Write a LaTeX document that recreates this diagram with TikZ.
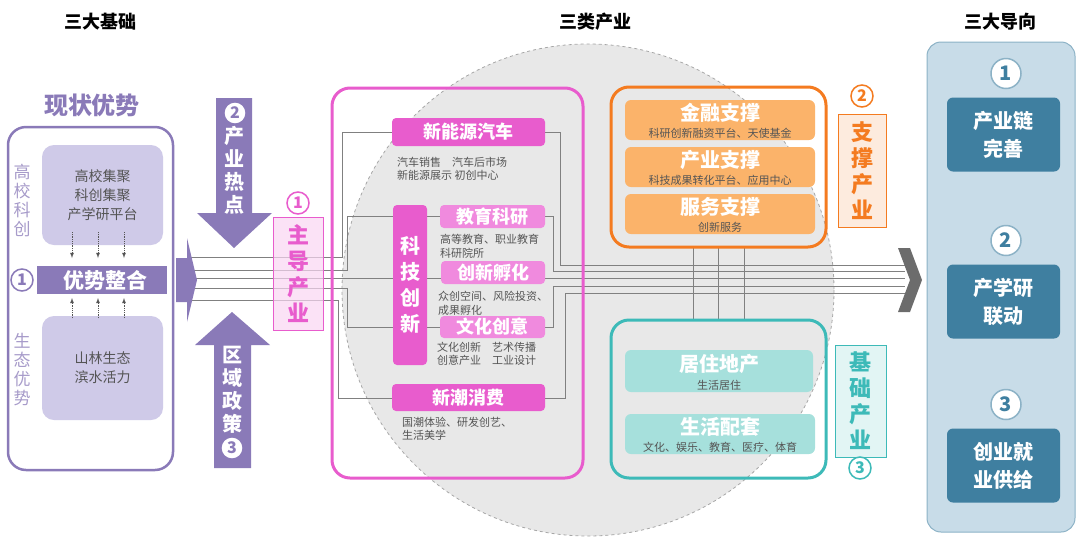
\documentclass[tikz,border=0pt]{standalone}
\usepackage{fontspec}
\setmainfont{Noto Sans CJK SC}
\usetikzlibrary{positioning}
\definecolor{cpurple}{HTML}{8A7AB8}
\definecolor{clav}{HTML}{CFCAE8}
\definecolor{cpink}{HTML}{E85CCD}
\definecolor{cpinkl}{HTML}{F08ADE}
\definecolor{corange}{HTML}{F47B20}
\definecolor{corangel}{HTML}{FBB36A}
\definecolor{cteal}{HTML}{3DBAB8}
\definecolor{ctealb}{HTML}{A6E0DC}
\definecolor{cblue}{HTML}{3F7FA0}
\definecolor{cpanel}{HTML}{C8DCE8}
\definecolor{ctext}{HTML}{555555}
\tikzset{
  title/.style={font=\fontsize{18}{20}\selectfont\bfseries},
  frame/.style={draw, line width=3pt, rounded corners=18pt},
  tag/.style={rounded corners=4pt, font=\fontsize{18}{20}\selectfont\bfseries, text=white, inner sep=0pt},
  small/.style={font=\fontsize{11}{13.5}\selectfont, text=ctext, align=left, anchor=west, inner sep=0pt},
  sub/.style={font=\fontsize{11}{12}\selectfont, text=ctext, inner sep=0pt},
  vtext/.style={align=center, font=\fontsize{20}{23}\selectfont\bfseries, inner sep=0pt},
  num/.style={circle, draw, line width=1.5pt, fill=white, inner sep=0pt, minimum size=22pt, font=\fontsize{16}{16}\selectfont\bfseries},
  wire/.style={draw=gray, line width=0.7pt},
  dots/.style={densely dotted, ctext, line width=0.8pt, -latex},
}
\begin{document}
\begin{tikzpicture}[x=1pt, y=-1pt]
  \useasboundingbox (0,0) rectangle (1080,539);
  % headers
  \node[title] (h1) at (100,22) {三大基础};
  \node[title] (h2) at (595,22) {三类产业};
  \node[title] (h3) at (1000,22) {三大导向};

  % background circle
  \draw[gray!70, dashed, fill=gray!18, line width=0.8pt] (588,290) circle (246);

  % wires
  \coordinate (wl) at (187,257);
  \coordinate (wr) at (905,265);
  \draw[wire] (187,257) -| (342,132) -- (392,132);
  \draw[wire] (545,132) -- (560,132) |- (905,265);
  \draw[wire] (187,270) -| (347,216) -- (440,216);
  \draw[wire] (545,216) -- (553,216) |- (905,271);
  \draw[wire] (187,278) -- (905,278);
  \draw[wire] (187,288) -| (347,327) -- (440,327);
  \draw[wire] (545,327) -- (553,327) |- (905,286);
  \draw[wire] (187,300) -| (338,398) -- (392,398);
  \draw[wire] (545,398) -- (565,398) |- (905,293);
  \foreach \x in {693,718,744}
    \draw[wire] (\x,247) -- (\x,320);
  \fill[gray!85!black] (898,248) -- (910,248) -- (922,280) -- (910,312) -- (898,312) -- (910,280) -- cycle;

  % left block
  \node[title, text=cpurple, font=\fontsize{24}{26}\selectfont\bfseries] (xzys) at (92,105) {现状优势};
  \node[draw=cpurple, line width=2.5pt, rounded corners=18pt, fill=white, minimum width=165pt, minimum height=343pt] (base) at (90.5,298.5) {};
  \node[fill=clav, rounded corners=12pt, minimum width=121pt, minimum height=100pt, align=center, font=\fontsize{14}{19}\selectfont, text=ctext] (gx) at (102.5,195) {高校集聚\\科创集聚\\产学研平台};
  \node[fill=clav, rounded corners=12pt, minimum width=121pt, minimum height=104pt, align=center, font=\fontsize{14}{19}\selectfont, text=ctext] (st) at (102.5,368) {山林生态\\滨水活力};
  \node[vtext, text=cpurple!75, font=\fontsize{17}{19}\selectfont] (gxkc) at (22,200) {高\\校\\科\\创};
  \node[vtext, text=cpurple!75, font=\fontsize{17}{19}\selectfont] (stys) at (22,370) {生\\态\\优\\势};
  \node[fill=cpurple, minimum width=130pt, minimum height=28pt, text=white, font=\fontsize{21}{22}\selectfont\bfseries, inner sep=0pt] (yszh) at (102,280) {\hspace{8pt}优势整合};
  \node[num, draw=cpurple, text=cpurple] (n1) at (22,280) {1};
  \foreach \x in {72,98,124} {
    \draw[dots] (\x,232) -- (\x,258);
    \draw[dots] (\x,318) -- (\x,298);
  }

  % purple arrows
  \fill[cpurple] (176,258) -- (187,258) -- (187,238) -- (197,280) -- (187,322) -- (187,302) -- (176,302) -- cycle;
  \fill[cpurple] (216,98) -- (252,98) -- (252,213) -- (272,213) -- (234,248) -- (197,213) -- (216,213) -- cycle;
  \fill[cpurple] (214,468) -- (251,468) -- (251,345) -- (270,345) -- (232,312) -- (195,345) -- (214,345) -- cycle;
  \node[num, draw=white, fill=white, text=cpurple, minimum size=19pt] (n2) at (235,113) {2};
  \node[vtext, text=white] (cyrd) at (234,170) {产\\业\\热\\点};
  \node[vtext, text=white] (qyzc) at (232,390) {区\\域\\政\\策};
  \node[num, draw=white, fill=white, text=cpurple, minimum size=19pt] (n3) at (232,448) {3};

  % leading industry
  \node[draw=cpink, fill=cpink!25, fill opacity=0.7, text opacity=1, minimum width=50pt, minimum height=113pt, vtext, text=cpink, font=\fontsize{22}{26}\selectfont\bfseries] (zdcy) at (298,273.5) {主\\导\\产\\业};
  \node[num, draw=cpink, text=cpink] (n4) at (298,203) {1};
  \node[frame, draw=cpink, minimum width=251pt, minimum height=390pt] (pinkbox) at (457.5,283) {};
  \node[tag, fill=cpink, minimum width=153pt, minimum height=28pt] (xny) at (468.5,132) {新能源汽车};
  \node[tag, fill=cpink, minimum width=34pt, minimum height=160pt, align=center, font=\fontsize{20}{26}\selectfont\bfseries] (kjcx) at (410,285) {科\\技\\创\\新};
  \node[tag, fill=cpinkl, minimum width=105pt, minimum height=23pt] (jyky) at (492.5,216.5) {教育科研};
  \node[tag, fill=cpinkl, minimum width=104pt, minimum height=23pt] (cxfh) at (493,272.5) {创新孵化};
  \node[tag, fill=cpinkl, minimum width=105pt, minimum height=22pt] (whcy) at (492.5,327) {文化创意};
  \node[tag, fill=cpink, minimum width=153pt, minimum height=27pt] (xccf) at (468.5,397.5) {新潮消费};
  \node[small] (t1) at (397,169) {汽车销售\quad 汽车后市场\\新能源展示 初创中心};
  \node[small] (t2) at (440,246.5) {高等教育、职业教育\\科研院所};
  \node[small] (t3) at (438,303.5) {众创空间、风险投资、\\成果孵化};
  \node[small] (t4) at (437,354) {文化创新\quad 艺术传播\\创意产业\quad 工业设计};
  \node[small] (t5) at (402,429) {国潮体验、研发创艺、\\生活美学};

  % supporting industry
  \node[frame, draw=corange, minimum width=215pt, minimum height=160pt] (orbox) at (718.5,167) {};
  \foreach \y/\name/\a/\b in {120/jr/金融支撑/科研创新融资平台、天使基金, 167/cy/产业支撑/科技成果转化平台、应用中心, 214/fw/服务支撑/创新服务} {
    \node[fill=corangel, rounded corners=6pt, minimum width=190pt, minimum height=40pt] (\name) at (720,\y) {};
    \node[tag, font=\fontsize{20}{22}\selectfont\bfseries] at (720,\y-7) {\a};
    \node[sub] at (720,\y+13) {\b};
  }
  \node[draw=corange, fill=corange!15, minimum width=48pt, minimum height=113pt, vtext, text=corange, font=\fontsize{22}{26}\selectfont\bfseries] (zccy) at (862,170.5) {支\\撑\\产\\业};
  \node[num, draw=corange, text=corange] (n5) at (862,96) {2};

  % basic industry
  \node[frame, draw=cteal, minimum width=215pt, minimum height=158pt] (tlbox) at (718.5,399) {};
  \node[fill=ctealb, rounded corners=6pt, minimum width=188pt, minimum height=42pt] (jzdc) at (719,371) {};
  \node[tag, font=\fontsize{20}{22}\selectfont\bfseries] at (719,364) {居住地产};
  \node[sub] at (719,385) {生活居住};
  \node[fill=ctealb, rounded corners=6pt, minimum width=190pt, minimum height=40pt] (shpt) at (720,434) {};
  \node[tag, font=\fontsize{20}{22}\selectfont\bfseries] at (720,427) {生活配套};
  \node[sub] at (720,447) {文化、娱乐、教育、医疗、体育};
  \node[draw=cteal, fill=cteal!15, minimum width=51pt, minimum height=112pt, vtext, text=cteal, font=\fontsize{22}{26}\selectfont\bfseries] (jccy) at (860.5,401) {基\\础\\产\\业};
  \node[num, draw=cteal, text=cteal] (n6) at (860,468) {3};

  % orientations
  \node[draw=cblue!60, line width=1pt, fill=cpanel, rounded corners=14pt, minimum width=148pt, minimum height=490pt] (panel) at (1001,287) {};
  \foreach \y/\n/\name/\lbl in {134.5/1/cyl/产业链\\完善, 301.5/2/cxy/产学研\\联动, 465.5/3/cyjy/创业就\\业供给} {
    \node[fill=cblue, rounded corners=6pt, minimum width=113pt, minimum height=74pt, align=center, text=white, font=\fontsize{20}{28}\selectfont\bfseries] (\name) at (1003.5,\y) {\lbl};
    \node[num, draw=cblue!60, text=cblue, minimum size=30pt, font=\fontsize{20}{20}\selectfont\bfseries] at (1006,\y-61) {\n};
  }
\end{tikzpicture}
\end{document}
